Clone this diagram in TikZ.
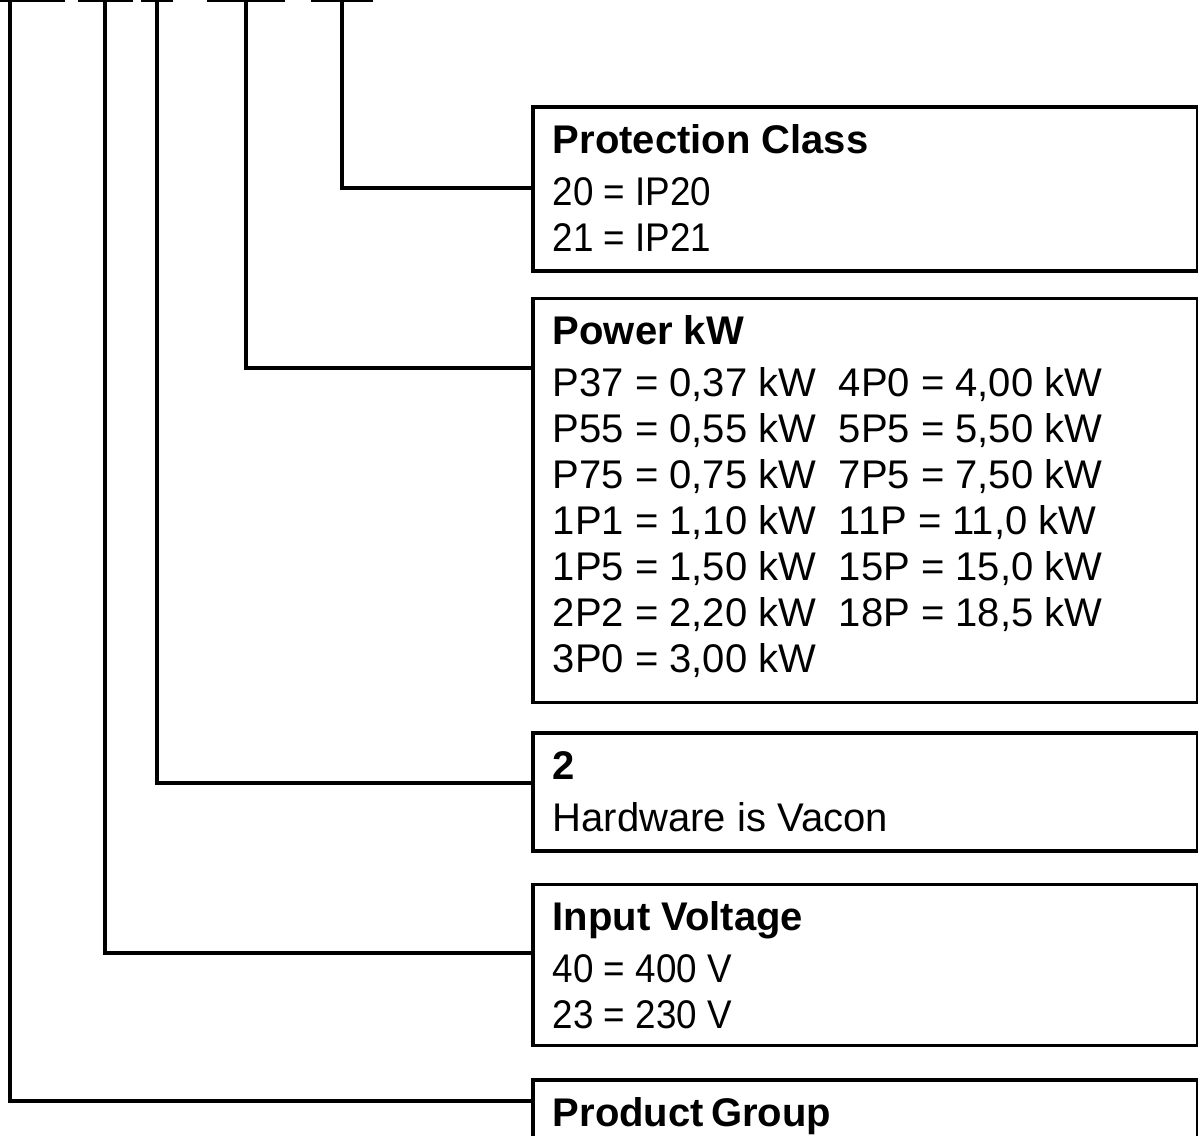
\documentclass[tikz,border=0pt]{standalone}
\usepackage{fontspec}
\setmainfont{Liberation Sans}
\newfontfamily\narrowfont[FakeStretch=0.92]{Liberation Sans}
\usetikzlibrary{positioning}
\newcommand{\pwcol}[1]{\makebox[143pt][l]{#1}}

\begin{document}
\begin{tikzpicture}[x=0.5pt,y=-0.5pt,line width=1.8pt,
    codebox/.style={draw,line width=1.8pt,inner xsep=10pt,inner ysep=7pt,
      font=\fontsize{20}{23}\selectfont}]
   \useasboundingbox (0,0) rectangle (1198,1135);
   % code segments along the top
   \foreach \a/\b in {0/65,78/133,141/173,207/285,311/373}
     \draw (\a,0.5) -- (\b,0.5);

   \node[codebox, anchor=north west] (prot) at (531,105)
     {\parbox[t][68pt][t]{312.5pt}{\strut\textbf{Protection Class}\\[3pt]
       \narrowfont 20 = IP20\\ 21 = IP21}};
   \node[codebox] (power) [below=12pt of prot]
     {\parbox[t][188pt][t]{312.5pt}{\strut\textbf{Power kW}\\[3pt]
       \pwcol{P37 = 0,37 kW}4P0 = 4,00 kW\\
       \pwcol{P55 = 0,55 kW}5P5 = 5,50 kW\\
       \pwcol{P75 = 0,75 kW}7P5 = 7,50 kW\\
       \pwcol{1P1 = 1,10 kW}11P = 11,0 kW\\
       \pwcol{1P5 = 1,50 kW}15P = 15,0 kW\\
       \pwcol{2P2 = 2,20 kW}18P = 18,5 kW\\
       3P0 = 3,00 kW}};
   \node[codebox] (hw) [below=13.5pt of power]
     {\parbox[t][45pt][t]{312.5pt}{\strut\textbf{2}\\[3pt]
       Hardware is Vacon}};
   \node[codebox] (volt) [below=15pt of hw]
     {\parbox[t][66.5pt][t]{312.5pt}{\strut\textbf{Input Voltage}\\[3pt]
       \narrowfont 40 = 400 V\\ 23 = 230 V}};
   \node[codebox] (group) [below=15.5pt of volt]
     {\parbox[t][56pt][t]{312.5pt}{\strut\textbf{Product\hspace{-0.1em} Group}}};

   % leader lines from the code to the boxes
   \foreach \x/\y/\n in {10/1101/group,105/953/volt,157/783/hw,246/368/power,342/188/prot}
   {
     \coordinate (top\n) at (\x,0);
     \coordinate (knee\n) at (\x,\y);
     \draw (top\n) -- (knee\n) -- (knee\n -| \n.west);
   }
\end{tikzpicture}
\end{document}
